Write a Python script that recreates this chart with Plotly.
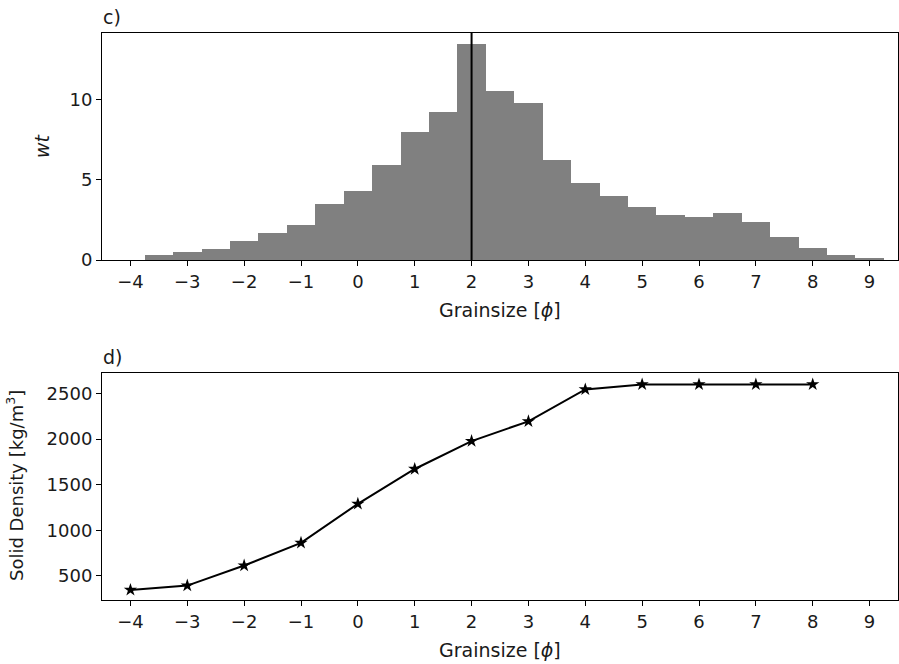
import plotly.graph_objects as go

# ---- data ----
bin_centers = [-3.5, -3.0, -2.5, -2.0, -1.5, -1.0, -0.5, 0.0, 0.5, 1.0, 1.5, 2.0, 2.5,
               3.0, 3.5, 4.0, 4.5, 5.0, 5.5, 6.0, 6.5, 7.0, 7.5, 8.0, 8.5, 9.0]
wt_values = [0.33, 0.48, 0.67, 1.19, 1.69, 2.19, 3.52, 4.33, 5.96, 7.98, 9.23, 13.48, 10.54,
             9.83, 6.25, 4.83, 4.02, 3.29, 2.79, 2.69, 2.92, 2.38, 1.46, 0.73, 0.33, 0.10]
median_phi = 2.0

grainsize = [-4, -3, -2, -1, 0, 1, 2, 3, 4, 5, 6, 7, 8]
solid_density = [346, 393, 613, 862, 1290, 1672, 1978, 2195, 2545, 2600, 2600, 2600, 2600]

x_ticks = list(range(-4, 10))
wt_ticks = [0, 5, 10]
dens_ticks = [500, 1000, 1500, 2000, 2500]

# ---- figure ----
W, H = 899, 664
FONT = "DejaVu Sans"
FS = 18
FS_LABEL = 19
TXT = "#1a1a1a"

def px_x(p):
    return p / W

def px_y(p):
    return 1 - p / H

fig = go.Figure()
fig.add_trace(go.Bar(x=bin_centers, y=wt_values, width=0.5, marker=dict(color="#808080", line=dict(width=0)),
                     xaxis="x", yaxis="y", showlegend=False))
fig.add_trace(go.Scatter(x=grainsize, y=solid_density, mode="lines+markers",
                         line=dict(color="black", width=2),
                         marker=dict(symbol="star", size=10, color="black"),
                         xaxis="x2", yaxis="y2", showlegend=False))

axis_common = dict(showgrid=False, zeroline=False, showline=True, linecolor="black", linewidth=1,
                   mirror=True, ticks="outside", ticklen=5, tickwidth=1, tickcolor="black",
                   tickfont=dict(family=FONT, size=FS, color=TXT), automargin=False)

fig.update_layout(
    width=W, height=H,
    margin=dict(l=0, r=0, t=0, b=0),
    paper_bgcolor="white", plot_bgcolor="white",
    bargap=0,
    font=dict(family=FONT, size=FS, color=TXT),
    xaxis=dict(domain=[px_x(102), px_x(898)], range=[-4.5, 9.5], tickvals=x_ticks, anchor="y", **axis_common),
    yaxis=dict(domain=[px_y(260), px_y(33)], range=[0, 14.17], tickvals=wt_ticks, anchor="x", **axis_common),
    xaxis2=dict(domain=[px_x(102), px_x(898)], range=[-4.5, 9.5], tickvals=x_ticks, anchor="y2", **axis_common),
    yaxis2=dict(domain=[px_y(600), px_y(373)], range=[235, 2725], tickvals=dens_ticks, anchor="x2", **axis_common),
)

fig.add_shape(type="line", x0=median_phi, x1=median_phi, y0=0, y1=1, xref="x", yref="y domain",
              line=dict(color="black", width=2))

ann = [
    dict(text="c)", x=px_x(101), y=px_y(30), xanchor="left", yanchor="bottom", size=FS_LABEL),
    dict(text="d)", x=px_x(101), y=px_y(370), xanchor="left", yanchor="bottom", size=FS_LABEL),
    dict(text="Grainsize [<i>ϕ</i>]", x=px_x(500), y=px_y(310), xanchor="center", yanchor="middle", size=FS_LABEL),
    dict(text="Grainsize [<i>ϕ</i>]", x=px_x(500), y=px_y(650), xanchor="center", yanchor="middle", size=FS_LABEL),
    dict(text="<i>wt</i>", x=px_x(42), y=px_y(146), xanchor="center", yanchor="middle", textangle=-90, size=FS_LABEL),
    dict(text="Solid Density [kg/m<sup>3</sup>]", x=px_x(15), y=px_y(486), xanchor="center", yanchor="middle",
         textangle=-90, size=FS),
]
for a in ann:
    size = a.pop("size")
    fig.add_annotation(xref="paper", yref="paper", showarrow=False,
                       font=dict(family=FONT, size=size, color=TXT), **a)

fig.write_html("out.html")
